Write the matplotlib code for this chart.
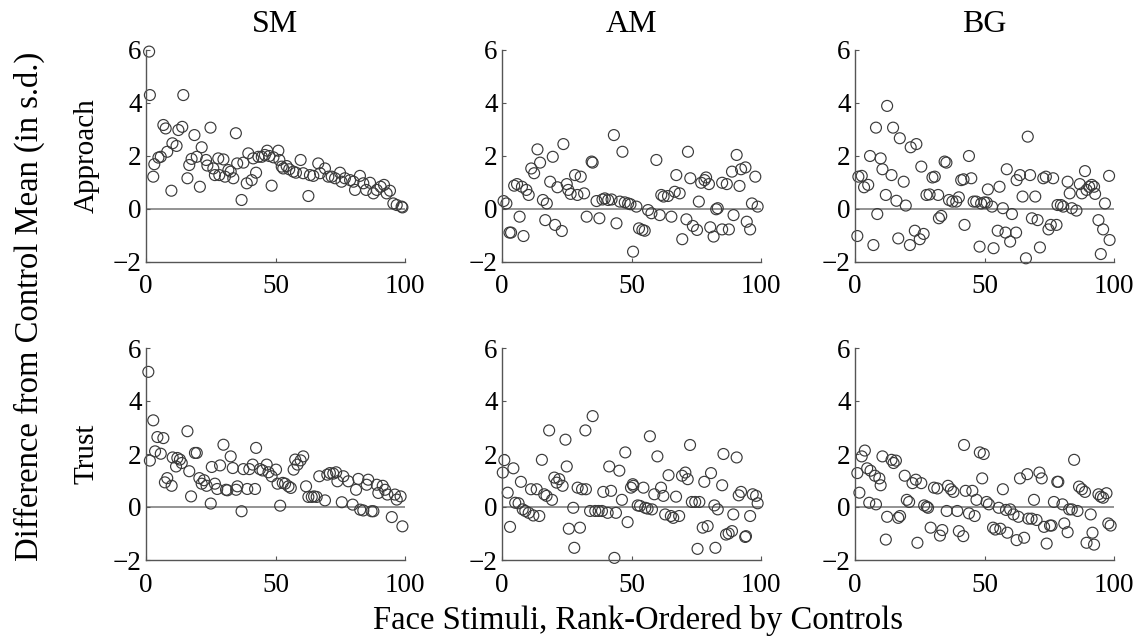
import numpy as np
import matplotlib
matplotlib.use("Agg")
import matplotlib.pyplot as plt

plt.rcParams["font.family"] = ["Liberation Serif", "DejaVu Serif"]

# ── data ─────────────────────────────────────────────────────────────────────
sm_app_x = [1.2, 1.5, 2.8, 3.2, 4.8, 5.7, 6.7, 7.6, 8.2, 9.8, 10.2, 11.8, 12.5, 14, 14.4,
            16, 16.7, 17.6, 18.7, 19.6, 20.8, 21.5, 23.2, 23.7, 24.9, 26, 26.6, 27.9, 28.3,
            29.9, 30.5, 31.8, 32.7, 33.7, 34.7, 35.2, 36.9, 37.6, 38.9, 39.5, 40.8, 41.4,
            42.5, 43.4, 44.7, 45.9, 46.8, 47.6, 48.5, 49.2, 51.1, 51.5, 52.4, 53, 54.3,
            55.3, 56.9, 57.9, 59.7, 60.7, 62.7, 63.3, 64.6, 66.5, 67.2, 69.1, 70.4, 71.7,
            73, 74.9, 75.5, 76.8, 78.8, 80.1, 80.7, 82.6, 83.9, 85, 86.5, 87.8, 89.1, 90.6,
            91.9, 92.9, 94.2, 95.5, 96.8, 98.7, 99]
sm_app_y = [5.94, 4.3, 1.22, 1.69, 1.94, 1.97, 3.17, 3.04, 2.16, 0.69, 2.48, 2.38, 2.98, 3.1,
            4.3, 1.16, 1.66, 1.89, 2.79, 1.97, 0.84, 2.33, 1.85, 1.64, 3.07, 1.53, 1.28, 1.91,
            1.28, 1.87, 1.22, 1.47, 1.41, 1.16, 2.86, 1.72, 0.34, 1.75, 0.97, 2.1, 1.09, 1.91,
            1.37, 1.97, 1.97, 2.04, 2.2, 2.0, 0.88, 1.95, 2.2, 1.85, 1.6, 1.53, 1.62, 1.5,
            1.41, 1.37, 1.85, 1.35, 0.49, 1.28, 1.25, 1.72, 1.35, 1.53, 1.22, 1.22, 1.16,
            1.37, 1.03, 1.16, 1.09, 1.03, 0.72, 1.25, 0.97, 0.72, 0.99, 0.59, 0.72, 0.84,
            0.91, 0.59, 0.69, 0.21, 0.15, 0.09, 0.06]

am_app_x = [0.6, 1.7, 2.9, 3.5, 4.7, 5.8, 6.8, 7.7, 8.3, 9.4, 10.3, 11.3, 12.4, 13.7, 14.7,
            15.8, 16.7, 17.3, 18.6, 19.6, 20.5, 21.4, 23.1, 23.7, 25, 25.6, 26.5, 28.2, 29.1,
            30.4, 31.7, 32.7, 34.6, 35, 36.5, 37.6, 38.8, 39.7, 41, 42.3, 43.2, 44.2, 45.5,
            46.5, 47.4, 48.7, 49.6, 50.6, 51.9, 52.9, 54.2, 55.1, 56.4, 57.7, 59.6, 60.9,
            61.5, 62.4, 64.1, 65.4, 66.7, 67.3, 68.6, 69.6, 71.2, 71.8, 72.7, 73.7, 75.3,
            76, 76.9, 78.2, 78.8, 79.9, 80.4, 81.7, 82.7, 83.3, 85, 85, 86.8, 87.6, 88.8,
            89.4, 90.6, 91.7, 92.3, 94, 94.5, 95.8, 96.5, 97.8, 98.7]
am_app_y = [0.3, 0.21, -0.89, -0.89, 0.88, 0.94, -0.29, 0.84, -1.02, 0.72, 0.53, 1.53, 1.35,
            2.25, 1.75, 0.34, -0.42, 0.21, 1.03, 1.97, -0.6, 0.82, -0.83, 2.45, 0.94, 0.72,
            0.57, 1.28, 0.53, 1.22, 0.59, -0.29, 1.79, 1.75, 0.3, -0.35, 0.36, 0.4, 0.34,
            0.36, 2.79, -0.54, 0.28, 2.16, 0.25, 0.21, 0.18, -1.61, 0.09, -0.73, -0.79,
            -0.82, -0.04, -0.16, 1.85, -0.23, 0.53, 0.47, 0.49, -0.29, 0.65, 1.28, 0.59,
            -1.14, -0.39, 2.16, 1.16, -0.64, -0.79, 0.28, 0.99, 1.09, 1.19, 0.94, -0.69,
            -1.04, -0.01, 0.03, 0.99, -0.77, 0.94, -0.77, 1.41, -0.23, 2.04, 0.87, 1.5,
            1.57, -0.48, -0.77, 0.21, 1.22, 0.09]

bg_app_x = [0.9, 1.3, 2.6, 3.5, 5.1, 5.8, 7.1, 8.1, 8.6, 9.9, 10.6, 11.9, 12.4, 14.1, 14.7,
            16, 16.7, 17.3, 18.8, 19.6, 21.2, 21.5, 23.1, 23.7, 25, 25.6, 26.5, 27.6, 28.8,
            29.9, 30.8, 32.1, 32.4, 33.3, 34.6, 35.3, 36.3, 37.6, 39.1, 40.1, 41, 41.9, 42.3,
            44, 44.9, 45.8, 46.8, 48.1, 48.7, 50, 50.9, 51.3, 52.9, 53.5, 55.1, 55.8, 57.1,
            58.1, 58.6, 59.9, 60.6, 62.2, 62.4, 63.7, 64.7, 66, 66.7, 67.6, 68.3, 69.6,
            70.5, 71.4, 72.7, 73.7, 74.7, 75.6, 76.5, 77.8, 78.2, 79.5, 80.4, 82.1, 82.9,
            83.7, 85.5, 86.8, 87.6, 88.8, 89.4, 90.4, 91.4, 92.3, 92.7, 94, 94.9, 95.8,
            96.5, 98.3, 98.1]
bg_app_y = [-1.02, 1.22, 1.25, 0.82, 0.91, 2.0, -1.36, 3.07, -0.19, 1.91, 1.5, 0.53, 3.89,
            1.28, 3.07, 0.31, -1.11, 2.67, 1.03, 0.13, -1.36, 2.33, -0.82, 2.45, -1.14, 1.6,
            -0.94, 0.53, 0.55, 1.19, 1.22, 0.53, -0.35, -0.26, 1.79, 1.75, 0.34, 0.28, 0.28,
            0.44, 1.09, 1.12, -0.6, 2.0, 1.16, 0.28, 0.28, -1.42, 0.21, 0.25, 0.24, 0.74,
            0.09, -1.48, -0.82, 0.84, 0.03, -0.89, 1.5, -1.23, -0.19, -0.89, 1.09, 1.28,
            0.47, -1.86, 2.73, 1.28, -0.35, 0.47, -0.42, -1.45, 1.16, 1.22, -0.77, -0.6,
            1.16, -0.6, 0.15, 0.15, 0.09, 1.03, 0.59, 0.03, -0.06, 0.94, 0.59, 1.43, 0.72,
            0.84, 0.91, 0.84, 0.57, -0.42, -1.7, -0.77, 0.21, -1.17, 1.25]

sm_tru_x = [0.9, 1.5, 2.8, 3.5, 4.4, 5.7, 6.7, 7.3, 8.2, 9.9, 10.3, 11.6, 12.1, 13.1, 13.8,
            16, 16.7, 17.4, 18.9, 19.6, 20.6, 21.5, 22.4, 23.4, 25, 25.4, 26.6, 27.5, 28.6,
            29.9, 30.9, 31.4, 32.7, 33.5, 34.8, 35.3, 36.9, 37.6, 39.1, 39.9, 41.2, 42.1,
            42.5, 44, 45, 46.6, 47.3, 48.5, 50.2, 50.8, 51.8, 52.8, 53.7, 55, 55.9, 57, 57.6,
            58.5, 59.7, 60.7, 61.8, 62.7, 64, 64.9, 65.9, 66.9, 69.1, 70, 71, 72.3, 73.4,
            73.9, 75.6, 76.2, 78.1, 79.8, 81.1, 82, 82.7, 83.9, 85.2, 85.8, 87.1, 87.8, 89.1,
            89.7, 91.4, 92.3, 93.2, 94.9, 96.1, 96.8, 98.3, 99]
sm_tru_y = [5.1, 1.75, 3.27, 2.1, 2.64, 2.01, 2.6, 0.93, 1.09, 0.8, 1.87, 1.53, 1.85, 1.79,
            1.66, 2.86, 1.35, 0.4, 2.04, 2.04, 1.09, 0.88, 1.01, 0.8, 0.13, 1.51, 0.88, 0.68,
            1.57, 2.35, 0.65, 0.63, 1.91, 1.47, 0.65, 0.78, -0.16, 1.43, 0.68, 1.43, 1.6,
            0.68, 2.23, 1.43, 1.38, 1.6, 1.31, 1.16, 1.41, 0.88, 0.05, 0.91, 0.88, 0.78,
            0.72, 1.41, 1.79, 1.6, 1.76, 1.91, 0.78, 0.38, 0.38, 0.4, 0.38, 1.16, 0.25, 1.22,
            1.28, 1.26, 1.31, 0.97, 0.18, 1.16, 0.97, 0.09, 0.65, 1.06, -0.1, -0.13, 0.84,
            1.03, -0.16, -0.16, 0.84, 0.53, 0.8, 0.65, 0.47, -0.38, 0.47, 0.28, 0.4, -0.73]

am_tru_x = [0.9, 0.3, 2.2, 3.1, 4.4, 5.1, 6.4, 7.3, 8, 9, 10.3, 11.2, 12.1, 13.4, 14.4, 15.4,
            16.3, 17.2, 18.2, 19.3, 20.2, 21.1, 22.1, 23.4, 24.5, 25, 25.8, 27.5, 27.9, 29.2,
            30.1, 30.9, 32.2, 32.4, 34, 35, 36, 37.3, 38.6, 39.1, 40.8, 41.4, 42.1, 43.4, 44,
            45.3, 46.3, 47.6, 48.5, 49.8, 50.5, 50.7, 52.4, 53.3, 54.6, 55.3, 56.2, 57.1,
            57.9, 58.8, 60, 61.4, 62.3, 63, 64.3, 65.2, 66.1, 67.2, 68.4, 69.5, 70.8, 71.7,
            72.6, 73.3, 74.6, 75.5, 76.2, 77.5, 78.1, 79.4, 80.7, 82, 82.4, 83.3, 85, 85.5,
            86.5, 87.5, 88.8, 89.3, 90.6, 91.4, 92.3, 93.9, 94.2, 95.8, 96.8, 98.1, 98.7]
am_tru_y = [1.77, 1.3, 0.54, -0.75, 1.46, 0.16, 0.14, 0.95, -0.09, -0.15, -0.22, 0.67, -0.32,
            0.67, -0.34, 1.78, 0.48, 0.42, 2.89, 0.27, 1.11, 0.92, 1.05, 0.8, 2.54, 1.53,
            -0.82, -0.03, -1.54, 0.73, -0.78, 0.67, 2.89, 0.67, -0.15, 3.43, -0.15, -0.15,
            -0.15, 0.57, -0.22, 1.53, 0.61, -1.92, -0.22, 1.37, 0.27, 2.06, -0.57, 0.73,
            0.86, 0.8, 0.06, 0.04, 0.73, -0.03, -0.06, 2.67, -0.09, 0.48, 1.91, 0.73, 0.42,
            -0.28, 1.2, -0.34, -0.41, 0.39, -0.34, 1.18, 1.3, 1.05, 2.34, 0.19, 0.19, -1.58,
            0.19, -0.78, 0.95, -0.72, 1.28, 0.06, -1.54, -0.09, 0.82, 2.0, -1.04, -1.0,
            -0.91, -0.28, 1.87, 0.44, 0.57, -1.13, -1.1, -0.34, 0.48, 0.42, 0.14]

bg_tru_x = [0.9, 1.7, 2.6, 3.8, 4.7, 6, 5.5, 7.7, 8.1, 9.4, 9.9, 10.6, 12.4, 11.9, 14.1, 14.9,
            15.8, 16.7, 17.4, 19.2, 20, 20.9, 22.2, 23.5, 24.1, 25.6, 26.7, 27.7, 28.2, 29.2,
            30.5, 31.8, 32.8, 33.7, 35.4, 35.9, 37, 38, 39.5, 40.1, 41.8, 42.1, 42.7, 44,
            45.3, 46.2, 46.9, 48.2, 49.1, 49.7, 50.8, 51.7, 53.3, 54.2, 55.5, 56.1, 57.1,
            58.3, 58.8, 59.9, 61.2, 62.4, 63.1, 63.7, 65.3, 66.5, 66.9, 68.2, 69.1, 70.1,
            71.2, 72.1, 73, 74, 75.3, 75.9, 76.8, 78.1, 78.5, 80.1, 80.8, 82.1, 82.7, 83.7,
            84.6, 85.9, 86.5, 87.6, 88.8, 89.4, 91, 91.7, 92.3, 94, 94.9, 95.8, 97.1, 97.8,
            98.7]
bg_tru_y = [1.28, 0.54, 1.91, 2.13, 1.46, 1.37, 0.16, 1.18, 0.1, 1.08, 0.82, 1.91, -0.37,
            -1.23, 1.78, 1.66, 1.75, -0.41, -0.34, 1.18, 0.27, 0.19, 0.9, 1.03, -1.35, 0.9,
            0.06, 0.01, -0.03, -0.78, 0.73, 0.7, -1.08, -0.87, -0.15, 0.8, 0.67, 0.57, -0.15,
            -0.91, -1.1, 2.34, 0.61, -0.24, 0.61, -0.34, 0.27, 2.06, 1.08, 2.0, 0.19, 0.1,
            -0.78, -0.85, -0.03, -0.82, 0.67, -0.11, -0.97, -0.09, -0.28, -1.25, -0.37, 1.08,
            -1.16, 1.24, -0.44, -0.44, 0.27, -0.49, 1.3, 1.08, -0.75, -1.38, -0.7, -0.7,
            0.19, 0.95, 0.95, 0.1, -0.62, -0.95, -0.09, -0.09, 1.78, -0.15, 0.77, 0.67, 0.57,
            -1.35, -0.28, -0.97, -1.42, 0.48, 0.39, 0.35, 0.52, -0.62, -0.7]

groups = ["SM", "AM", "BG"]
measures = ["Approach", "Trust"]
panels = {
    ("Approach", "SM"): (sm_app_x, sm_app_y),
    ("Approach", "AM"): (am_app_x, am_app_y),
    ("Approach", "BG"): (bg_app_x, bg_app_y),
    ("Trust", "SM"): (sm_tru_x, sm_tru_y),
    ("Trust", "AM"): (am_tru_x, am_tru_y),
    ("Trust", "BG"): (bg_tru_x, bg_tru_y),
}

# ── layout ───────────────────────────────────────────────────────────────────
W, H = 1145, 642
fig = plt.figure(figsize=(W / 100, H / 100), dpi=100)

col_x0 = [146, 502, 855]
row_top = [50, 348]
ax_w, ax_h = 259, 212
FS = 19.5

for r, meas in enumerate(measures):
    for c, grp in enumerate(groups):
        ax = fig.add_axes([col_x0[c] / W, 1 - (row_top[r] + ax_h) / H, ax_w / W, ax_h / H])
        xs, ys = panels[(meas, grp)]
        ax.axhline(0, color="#808080", lw=1.2, zorder=1)
        ax.scatter(xs, ys, s=62, facecolors="none", edgecolors="#3a3a3a",
                   linewidths=0.85, zorder=2, clip_on=False)
        ax.set_xlim(0, 100)
        ax.set_ylim(-2, 6)
        ax.set_xticks([0, 50, 100])
        ax.set_yticks([-2, 0, 2, 4, 6])
        ax.set_yticklabels(["\u22122", "0", "2", "4", "6"])
        for s in ["top", "right"]:
            ax.spines[s].set_visible(False)
        for s in ["left", "bottom"]:
            ax.spines[s].set_color("#555555")
            ax.spines[s].set_linewidth(1.0)
        ax.tick_params(direction="in", length=3, width=0.8, color="#555555",
                       labelsize=FS)
        ax.tick_params(axis="x", pad=9)
        ax.tick_params(axis="y", pad=3)
        if r == 0:
            ax.set_title(grp, fontsize=23, pad=13)

# row labels
for r, meas in enumerate(measures):
    yc = 1 - (row_top[r] + ax_h / 2) / H
    fig.text(87 / W, yc, meas, rotation=90, ha="center", va="center", fontsize=21)

fig.text(29 / W, 1 - 306 / H, "Difference from Control Mean (in s.d.)", rotation=90,
         ha="center", va="center", fontsize=23.5)
fig.text(638 / W, 1 - 621 / H, "Face Stimuli, Rank-Ordered by Controls",
         ha="center", va="center", fontsize=23.5)

plt.savefig("out.png", dpi=100)
